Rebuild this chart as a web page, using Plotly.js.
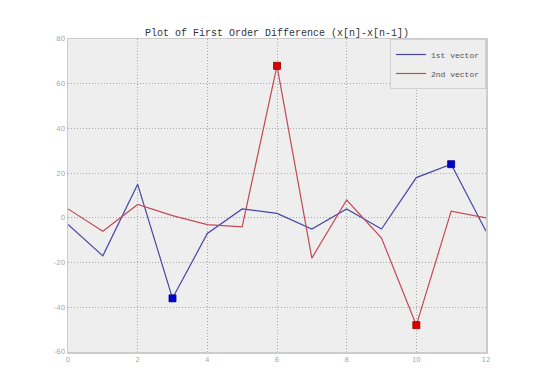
<!DOCTYPE html>
<html>
<head>
<meta charset="utf-8">
<script src="https://cdn.plot.ly/plotly-3.0.1.min.js"></script>
<style>html,body{margin:0;padding:0;background:#fff;}#chart{width:540px;height:391px;}</style>
</head>
<body>
<div id="chart"></div>
<script>
const xs = [0,1,2,3,4,5,6,7,8,9,10,11,12];
const firstVector = [-3,-17,15,-36,-7,4,2,-5,4,-5,18,24,-6];
const secondVector = [4,-6,6,1,-3,-4,68,-18,8,-9,-48,3,0];
const firstExtremaX = [3,11];
const firstExtremaY = [-36,24];
const secondExtremaX = [6,10];
const secondExtremaY = [68,-48];
const xTicks = [0,2,4,6,8,10,12];
const yTicks = [-60,-40,-20,0,20,40,60,80];

const mono = '"Liberation Mono", "DejaVu Sans Mono", monospace';
const traces = [
  {x: xs, y: firstVector, type: 'scatter', mode: 'lines', name: '1st vector',
   line: {color: '#4646a6', width: 1.2}},
  {x: xs, y: secondVector, type: 'scatter', mode: 'lines', name: '2nd vector',
   line: {color: '#c04a55', width: 1.2}},
  {x: firstExtremaX, y: firstExtremaY, type: 'scatter', mode: 'markers', showlegend: false,
   marker: {symbol: 'square', size: 7, color: '#0000cc', line: {color: '#000088', width: 0.8}}},
  {x: secondExtremaX, y: secondExtremaY, type: 'scatter', mode: 'markers', showlegend: false,
   marker: {symbol: 'square', size: 7, color: '#dd0000', line: {color: '#880000', width: 0.8}}}
];
const axisCommon = {
  showgrid: true, gridcolor: '#a8a8a8', griddash: '1px,2px', gridwidth: 1,
  zeroline: false, showline: true, linecolor: '#cccccc', linewidth: 1.5, mirror: true,
  ticks: 'outside', ticklen: 0, tickfont: {family: '"DejaVu Sans", sans-serif', size: 7, color: '#aaaaaa'}
};
const layout = {
  width: 540, height: 391,
  margin: {l: 68, r: 54, t: 39, b: 39},
  paper_bgcolor: '#ffffff', plot_bgcolor: '#eeeeee',
  title: {text: 'Plot of First Order Difference (x[n]-x[n-1])', x: 0.513, xanchor: 'center', y: 0.918, yanchor: 'middle',
          font: {family: mono, size: 10, color: '#333333'}},
  xaxis: Object.assign({}, axisCommon, {range: [0,12], tickvals: xTicks, ticktext: xTicks.map(String)}),
  yaxis: Object.assign({}, axisCommon, {range: [-60,80], tickvals: yTicks, ticktext: yTicks.map(String)}),
  legend: {x: 1, y: 1, xanchor: 'right', yanchor: 'top', bgcolor: '#eeeeee', bordercolor: '#d0d0d0', borderwidth: 1,
           font: {family: mono, size: 8, color: '#555555'}, tracegroupgap: 0, itemwidth: 30},
  showlegend: true
};
Plotly.newPlot('chart', traces, layout, {displayModeBar: false, staticPlot: true});
</script>
</body>
</html>
